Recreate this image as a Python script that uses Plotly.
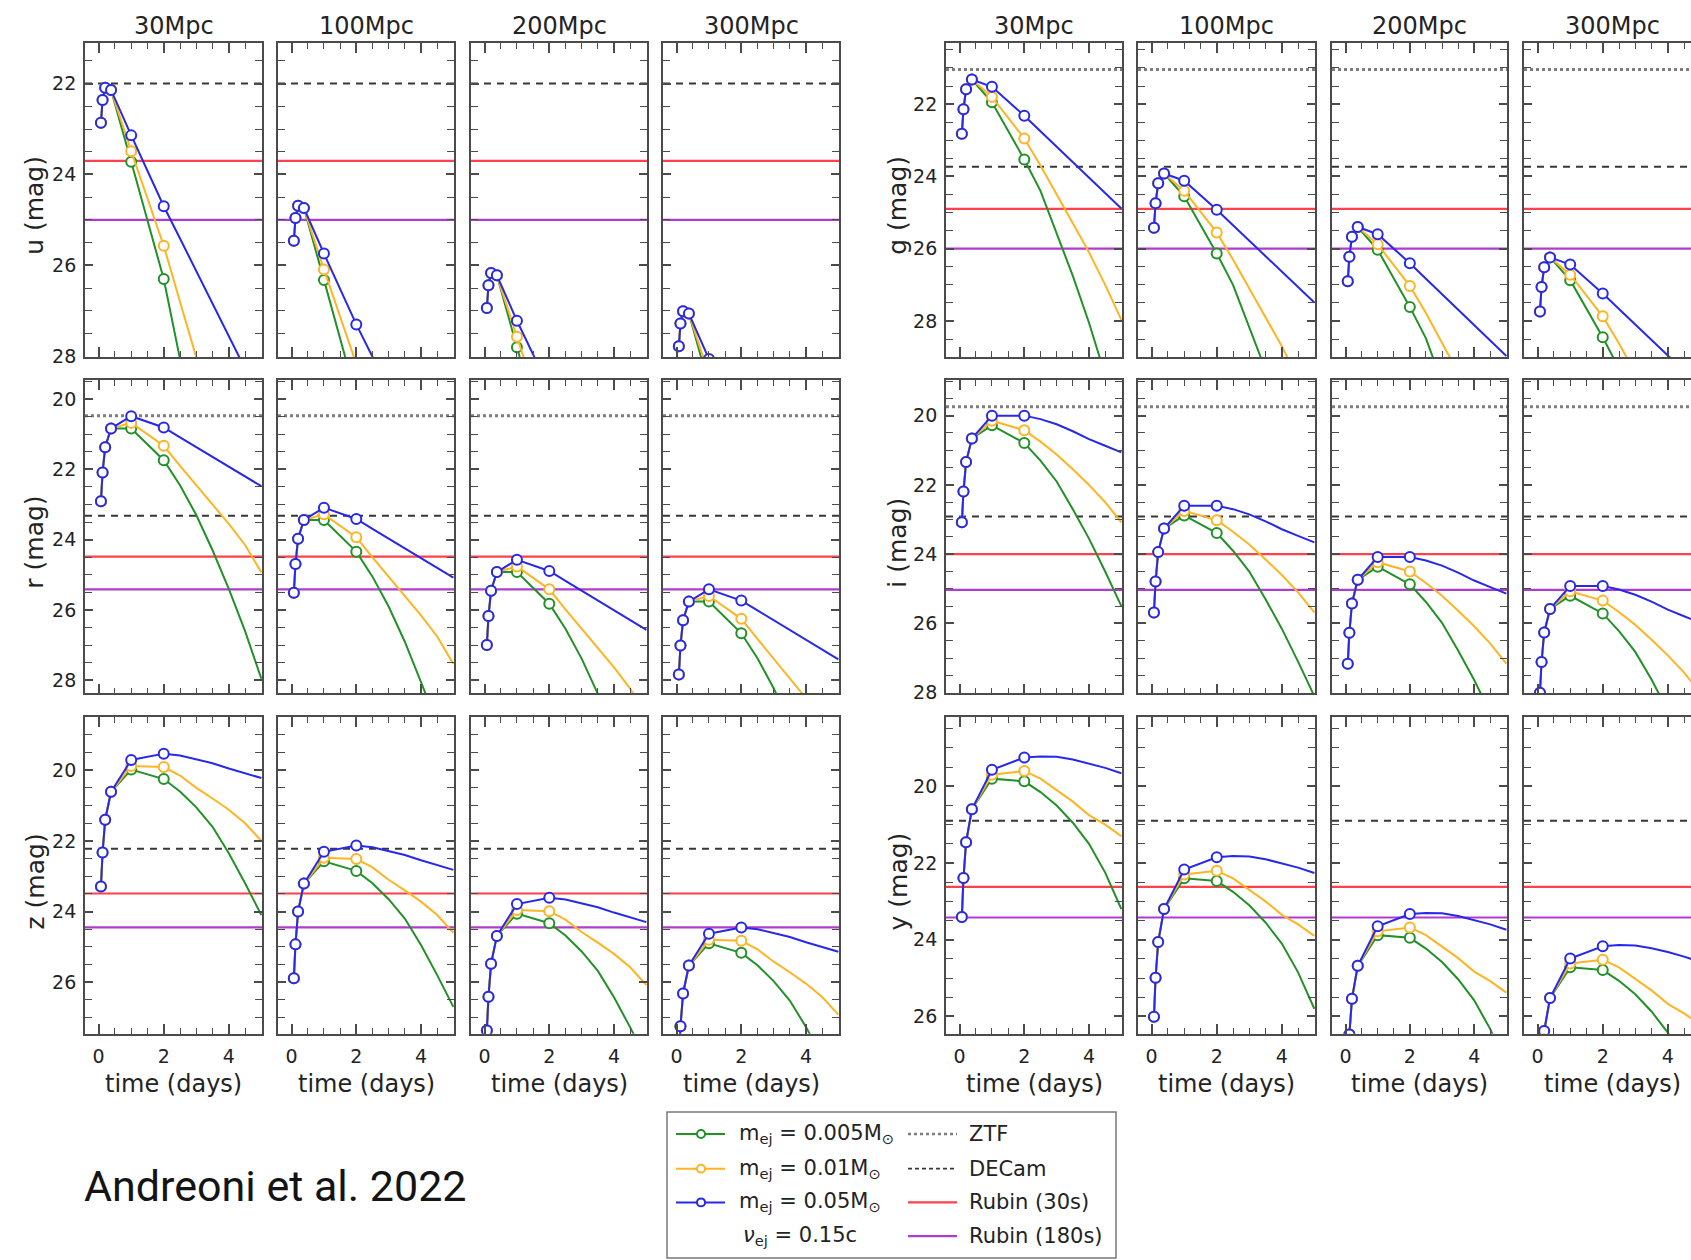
import plotly.graph_objects as go

W, H = 1691, 1260

# Epochs (days) of the model light curves; the first six carry symbols
T_DAYS = [0.07, 0.12, 0.20, 0.38, 1.0, 2.0, 2.5, 3.0, 3.5, 4.0, 4.5, 5.0]
N_SYMBOL = 6

DISTANCES = ["30Mpc", "100Mpc", "200Mpc", "300Mpc"]
# apparent-magnitude shift relative to 30 Mpc
DIST_SHIFT = [0.0, 2.60, 4.08, 4.92]

# Light curves at 30 Mpc (mag) for m_ej = 0.005, 0.01, 0.05 Msun (v_ej = 0.15c)
U_M005 = [22.86, 22.36, 22.09, 22.14, 23.72, 26.30, 28.06, 29.80, None, None, None, None]
U_M010 = [22.86, 22.36, 22.09, 22.14, 23.49, 25.57, 26.80, 28.02, 29.25, None, None, None]
U_M050 = [22.86, 22.36, 22.09, 22.14, 23.14, 24.70, 25.41, 26.13, 26.84, 27.56, 28.27, 28.99]

G_M005 = [22.82, 22.14, 21.59, 21.32, 21.95, 23.53, 24.40, 25.55, 26.75, 28.05, 29.50, None]
G_M010 = [22.82, 22.14, 21.59, 21.32, 21.80, 22.95, 23.70, 24.50, 25.30, 26.10, 27.00, 27.97]
G_M050 = [22.82, 22.14, 21.59, 21.32, 21.52, 22.32, 22.75, 23.18, 23.61, 24.03, 24.46, 24.89]

R_M005 = [22.91, 22.09, 21.37, 20.84, 20.84, 21.74, 22.45, 23.30, 24.30, 25.40, 26.60, 27.95]
R_M010 = [22.91, 22.09, 21.37, 20.84, 20.68, 21.33, 21.90, 22.45, 23.00, 23.55, 24.15, 24.93]
R_M050 = [22.91, 22.09, 21.37, 20.84, 20.49, 20.81, 21.09, 21.37, 21.65, 21.92, 22.20, 22.48]

I_M005 = [23.08, 22.19, 21.34, 20.66, 20.28, 20.79, 21.30, 21.90, 22.70, 23.55, 24.50, 25.50]
I_M010 = [23.08, 22.19, 21.34, 20.66, 20.15, 20.42, 20.75, 21.12, 21.55, 22.00, 22.50, 23.08]
I_M050 = [23.08, 22.19, 21.34, 20.66, 20.00, 20.00, 20.10, 20.25, 20.45, 20.68, 20.87, 21.06]

Z_M005 = [23.29, 22.33, 21.40, 20.61, 19.98, 20.25, 20.60, 21.05, 21.60, 22.35, 23.20, 24.10]
Z_M010 = [23.29, 22.33, 21.40, 20.61, 19.88, 19.91, 20.15, 20.50, 20.80, 21.12, 21.50, 22.00]
Z_M050 = [23.29, 22.33, 21.40, 20.61, 19.71, 19.53, 19.58, 19.68, 19.80, 19.95, 20.08, 20.22]

Y_M005 = [23.41, 22.39, 21.46, 20.60, 19.80, 19.87, 20.15, 20.50, 20.95, 21.50, 22.25, 23.20]
Y_M010 = [23.41, 22.39, 21.46, 20.60, 19.70, 19.60, 19.80, 20.10, 20.40, 20.75, 21.00, 21.30]
Y_M050 = [23.41, 22.39, 21.46, 20.60, 19.57, 19.25, 19.22, 19.23, 19.30, 19.40, 19.52, 19.66]

BANDS = ["u", "g", "r", "i", "z", "y"]
CURVES = {
    "u": [U_M005, U_M010, U_M050],
    "g": [G_M005, G_M010, G_M050],
    "r": [R_M005, R_M010, R_M050],
    "i": [I_M005, I_M010, I_M050],
    "z": [Z_M005, Z_M010, Z_M050],
    "y": [Y_M005, Y_M010, Y_M050],
}

# Survey single-visit depths (mag), in BANDS order
ZTF_LIM = [None, 21.04, 20.48, 19.74, None, None]
DECAM_LIM = [22.00, 23.73, 23.32, 22.91, 22.22, 20.90]
RUBIN30_LIM = [23.70, 24.90, 24.48, 24.00, 23.49, 22.62]
RUBIN180_LIM = [25.00, 26.00, 25.41, 25.03, 24.45, 23.42]

# ---------------------------------------------------------------- styling
FONT = "DejaVu Sans"
TXT = "rgb(35,35,35)"
FRAME = "rgb(75,75,75)"
GREEN = "rgb(34,145,40)"
ORANGE = "rgb(255,180,35)"
BLUE = "rgb(40,40,235)"
RED = "rgb(255,65,75)"
PURPLE = "rgb(175,60,205)"
DECAM_C = "rgb(55,55,55)"
ZTF_C = "rgb(125,125,125)"
MODEL_COLORS = [GREEN, ORANGE, BLUE]

# panel geometry (pixels)
COL_PX = [(85, 262), (278, 454), (471, 647), (663, 839),
          (946, 1122), (1138, 1315), (1332, 1507), (1524, 1700)]
ROW_PX = [(43, 360), (383, 699), (723, 1042)]
GROUP_BANDS = [["u", "r", "z"], ["g", "i", "y"]]
Y_RANGE = {"u": [28.02, 21.1], "r": [28.37, 19.46], "z": [27.46, 18.5],
           "g": [29.0, 20.3], "i": [28.02, 18.97], "y": [26.45, 18.2]}
X_RANGE = [-0.42, 5.02]
DAY_PER_PX = (X_RANGE[1] - X_RANGE[0]) / 177.0


def px_x(p):
    return p / W


def px_y(p):
    return 1 - p / H


fig = go.Figure()
layout = dict(
    width=W, height=H, autosize=False,
    margin=dict(l=0, r=0, t=0, b=0),
    paper_bgcolor="white", plot_bgcolor="white",
    showlegend=False,
    font=dict(family=FONT, color=TXT),
)
shapes = []
annotations = []

k = 0
for gi, bands in enumerate(GROUP_BANDS):
    for ri, band in enumerate(bands):
        bidx = BANDS.index(band)
        top, bot = ROW_PX[ri]
        for ci in range(4):
            k += 1
            xname = "x" if k == 1 else f"x{k}"
            yname = "y" if k == 1 else f"y{k}"
            cx0, cx1 = COL_PX[gi * 4 + ci]
            last = (gi == 1 and ci == 3)
            if last:
                xdom = [px_x(cx0), 1.0]
                xr = [X_RANGE[0], X_RANGE[0] + (W - cx0) * DAY_PER_PX]
            else:
                xdom = [px_x(cx0), px_x(cx1)]
                xr = X_RANGE
            ydom = [px_y(bot), px_y(top)]

            layout["xaxis" if k == 1 else f"xaxis{k}"] = dict(
                domain=xdom, range=xr, anchor=yname,
                showline=True, linecolor=FRAME, linewidth=1.8, mirror="ticks",
                ticks="inside", ticklen=10, tickwidth=1.6, tickcolor=FRAME,
                tick0=0, dtick=2, showgrid=False, zeroline=False,
                showticklabels=(ri == 2), ticklabelstandoff=5,
                tickfont=dict(family=FONT, size=19, color=TXT),
                minor=dict(ticks="inside", tick0=0, dtick=0.5, ticklen=6,
                           tickwidth=1.4, tickcolor=FRAME, showgrid=False),
                fixedrange=True,
            )
            layout["yaxis" if k == 1 else f"yaxis{k}"] = dict(
                domain=ydom, range=Y_RANGE[band], anchor=xname,
                showline=True, linecolor=FRAME, linewidth=1.8,
                mirror=(False if last else "ticks"),
                ticks="inside", ticklen=8, tickwidth=1.6, tickcolor=FRAME,
                tick0=0, dtick=2, showgrid=False, zeroline=False,
                showticklabels=(ci == 0), ticklabelstandoff=3,
                tickfont=dict(family=FONT, size=19, color=TXT),
                minor=dict(ticks="inside", tick0=0, dtick=0.5, ticklen=7,
                           tickwidth=1.4, tickcolor=FRAME, showgrid=False),
                fixedrange=True,
            )

            # survey depth lines
            dref = f"{xname} domain"
            for lim, color, dash, width in [
                (ZTF_LIM[bidx], ZTF_C, "dot", 3.0),
                (DECAM_LIM[bidx], DECAM_C, "7px,6px", 2.0),
                (RUBIN30_LIM[bidx], RED, "solid", 2.2),
                (RUBIN180_LIM[bidx], PURPLE, "solid", 2.2),
            ]:
                if lim is None:
                    continue
                shapes.append(dict(type="line", xref=dref, yref=yname,
                                   x0=0, x1=1, y0=lim, y1=lim, layer="below",
                                   line=dict(color=color, width=width, dash=dash)))

            # model light curves shifted to the panel distance
            shift = DIST_SHIFT[ci]
            for mi, base in enumerate(CURVES[band]):
                mags = [None if v is None else v + shift for v in base]
                fig.add_trace(go.Scatter(
                    x=T_DAYS, y=mags, mode="lines", xaxis=xname, yaxis=yname,
                    line=dict(color=MODEL_COLORS[mi], width=2.0),
                    hoverinfo="skip"))
                fig.add_trace(go.Scatter(
                    x=T_DAYS[:N_SYMBOL], y=mags[:N_SYMBOL], mode="markers",
                    xaxis=xname, yaxis=yname,
                    marker=dict(symbol="circle", size=10, color="white",
                                line=dict(color=MODEL_COLORS[mi], width=2.0)),
                    hoverinfo="skip"))

            # column titles
            if ri == 0:
                annotations.append(dict(
                    text=DISTANCES[ci], xref="paper", yref="paper",
                    x=px_x((cx0 + cx1) / 2), y=px_y(26), xanchor="center",
                    yanchor="middle", showarrow=False,
                    font=dict(family=FONT, size=24, color=TXT)))
            # time axis title
            if ri == 2:
                annotations.append(dict(
                    text="time (days)", xref="paper", yref="paper",
                    x=px_x((cx0 + cx1) / 2), y=px_y(1093), xanchor="center",
                    yanchor="middle", showarrow=False,
                    font=dict(family=FONT, size=24, color=TXT)))
        # magnitude axis title
        annotations.append(dict(
            text=f"{band} (mag)", xref="paper", yref="paper",
            x=px_x(35 if gi == 0 else 898), y=px_y((top + bot) / 2 + 6),
            xanchor="center", yanchor="middle", textangle=-90, showarrow=False,
            font=dict(family=FONT, size=25, color=TXT)))

# ---------------------------------------------------------------- legend box
shapes.append(dict(type="rect", xref="paper", yref="paper",
                   x0=px_x(667), x1=px_x(1116), y0=px_y(1268), y1=px_y(1121),
                   line=dict(color="rgb(120,120,120)", width=1.5),
                   fillcolor="white", layer="above"))
LEG_ROWS = [1143, 1178, 1212, 1246]
LEG_MODEL_TEXT = ["m<sub>ej</sub> = 0.005M<sub>⊙</sub>",
                  "m<sub>ej</sub> = 0.01M<sub>⊙</sub>",
                  "m<sub>ej</sub> = 0.05M<sub>⊙</sub>"]
for mi, label in enumerate(LEG_MODEL_TEXT):
    yy = LEG_ROWS[mi]
    shapes.append(dict(type="line", xref="paper", yref="paper",
                       x0=px_x(676), x1=px_x(725), y0=px_y(yy), y1=px_y(yy),
                       line=dict(color=MODEL_COLORS[mi], width=2), layer="above"))
    shapes.append(dict(type="circle", xref="paper", yref="paper",
                       x0=px_x(697), x1=px_x(705), y0=px_y(yy + 4), y1=px_y(yy - 4),
                       fillcolor="white", line=dict(color=MODEL_COLORS[mi], width=2),
                       layer="above"))
    annotations.append(dict(text=label, xref="paper", yref="paper",
                            x=px_x(737), y=px_y(yy), xanchor="left", yanchor="middle",
                            showarrow=False, font=dict(family=FONT, size=21, color=TXT)))
annotations.append(dict(text="<i>ν</i><sub>ej</sub> = 0.15c", xref="paper", yref="paper",
                        x=px_x(741), y=px_y(LEG_ROWS[3]), xanchor="left",
                        yanchor="middle", showarrow=False,
                        font=dict(family=FONT, size=21, color=TXT)))

LEG_LIMITS = [("ZTF", ZTF_C, "dot", 2.6), ("DECam", DECAM_C, "4px,3px", 1.6),
              ("Rubin (30s)", RED, "solid", 2.4), ("Rubin (180s)", PURPLE, "solid", 2.4)]
for li, (label, color, dash, width) in enumerate(LEG_LIMITS):
    yy = LEG_ROWS[li]
    shapes.append(dict(type="line", xref="paper", yref="paper",
                       x0=px_x(908), x1=px_x(957), y0=px_y(yy), y1=px_y(yy),
                       line=dict(color=color, width=width, dash=dash), layer="above"))
    annotations.append(dict(text=label, xref="paper", yref="paper",
                            x=px_x(967), y=px_y(yy), xanchor="left", yanchor="middle",
                            showarrow=False, font=dict(family=FONT, size=21, color=TXT)))

# reference caption
annotations.append(dict(text="Andreoni et al. 2022", xref="paper", yref="paper",
                        x=px_x(82), y=px_y(1195), xanchor="left", yanchor="middle",
                        showarrow=False,
                        font=dict(family="Roboto", size=43, color="rgb(20,20,20)")))

layout["shapes"] = shapes
layout["annotations"] = annotations
fig.update_layout(**layout)
fig.write_html("out.html")
